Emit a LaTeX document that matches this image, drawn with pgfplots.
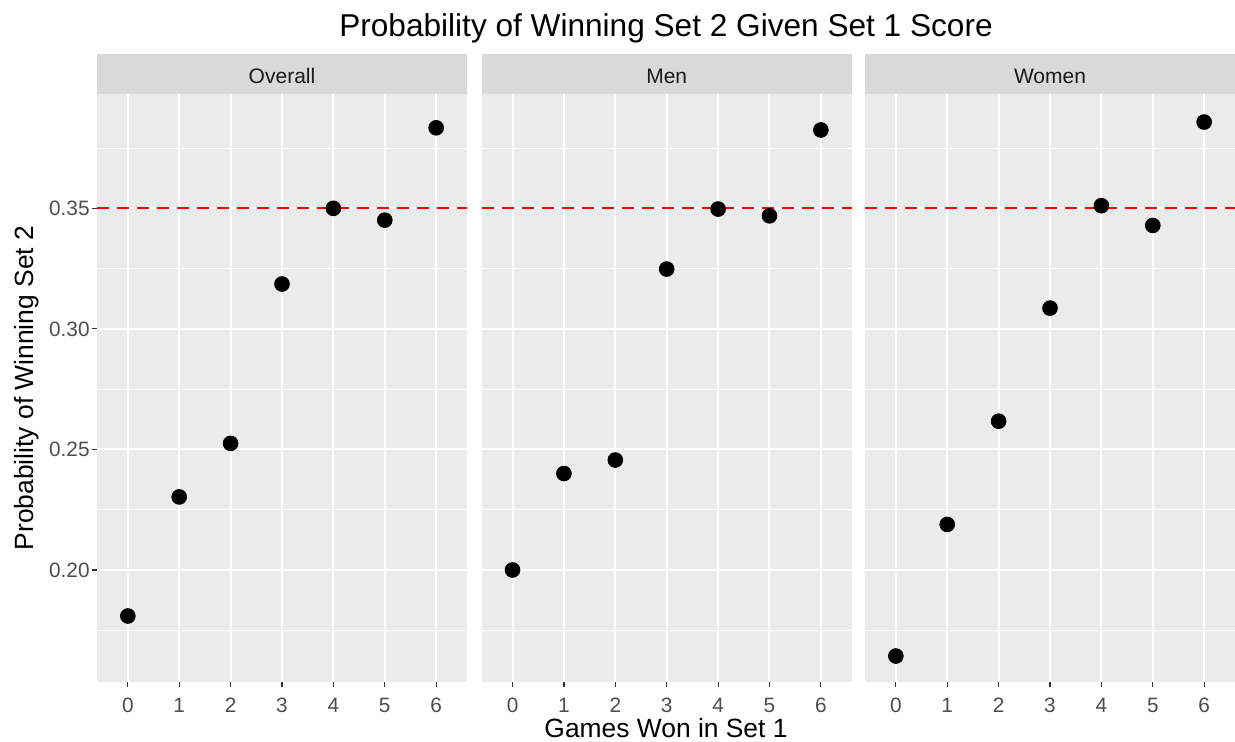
\documentclass[border=0pt]{standalone}
\usepackage{fontspec}
\setmainfont{Liberation Sans}
\usepackage{pgfplots}
\pgfplotsset{compat=1.18}

\definecolor{panelbg}{HTML}{EBEBEB}
\definecolor{stripbg}{HTML}{D9D9D9}
\definecolor{ticktext}{HTML}{4D4D4D}
\definecolor{tickline}{HTML}{333333}
\definecolor{striptext}{HTML}{1A1A1A}

\pgfplotsset{
  facet/.style={
    scale only axis, width=185pt, height=293.7pt, anchor=south west,
    xmin=-0.6, xmax=6.6, ymin=0.15365, ymax=0.3973,
    axis background/.style={fill=panelbg},
    axis line style={draw=none},
    clip=false,
    xtick={0,...,6}, ytick={0.20,0.25,0.30,0.35},
    minor ytick={0.175,0.225,0.275,0.325,0.375},
    grid=both,
    major grid style={white, line width=1pt},
    minor grid style={white, line width=0.5pt},
    tick align=outside, tick pos=left,
    major tick length=2.5pt, minor tick length=0pt,
    tick style={tickline, line width=0.6pt},
    /pgf/number format/assume math mode=true,
    ticklabel style={font=\fontsize{10.4}{12}\selectfont, text=ticktext},
    xticklabel style={inner sep=0pt, yshift=-5.5pt},
    yticklabel style={inner sep=1pt, /pgf/number format/.cd, fixed, fixed zerofill, precision=2},
  },
  pts/.style={only marks, mark=*, mark size=3.7pt, black},
  ref/.style={red, line width=1pt, dash pattern=on 6pt off 4pt},
}

\newcommand{\strip}[1]{%
  \fill[stripbg] (rel axis cs:0,1) rectangle ([yshift=20.15pt]rel axis cs:1,1);
  \node[anchor=base, text=striptext, font=\fontsize{10.5}{12}\selectfont]
    at ([yshift=5.5pt]rel axis cs:0.5,1) {#1};
}

\begin{document}
\begin{tikzpicture}
\path[use as bounding box] (0,0) rectangle (617.5pt,-371pt);

% Overall
\begin{axis}[facet, at={(48.5pt,-340.85pt)}]
\addplot[ref] coordinates {(-0.6,0.35) (6.6,0.35)};
\addplot[pts] coordinates {(0,0.1809) (1,0.2303) (2,0.2525) (3,0.3186) (4,0.3500) (5,0.3451) (6,0.3834)};
\strip{Overall}
\end{axis}

% Men
\begin{axis}[facet, at={(240.85pt,-340.85pt)}, yticklabels={}, ytick style={draw=none}]
\addplot[ref] coordinates {(-0.6,0.35) (6.6,0.35)};
\addplot[pts] coordinates {(0,0.2000) (1,0.2400) (2,0.2456) (3,0.3248) (4,0.3497) (5,0.3469) (6,0.3825)};
\strip{Men}
\end{axis}

% Women
\begin{axis}[facet, at={(432.5pt,-340.85pt)}, yticklabels={}, ytick style={draw=none}]
\addplot[ref] coordinates {(-0.6,0.35) (6.6,0.35)};
\addplot[pts] coordinates {(0,0.1643) (1,0.2189) (2,0.2617) (3,0.3086) (4,0.3511) (5,0.3429) (6,0.3858)};
\strip{Women}
\end{axis}

\node[anchor=base, font=\fontsize{15.8}{18}\selectfont] at (333pt,-18.35pt)
  {Probability of Winning Set 2 Given Set 1 Score};
\node[anchor=base, font=\fontsize{13.2}{15}\selectfont] at (333pt,-368.8pt)
  {Games Won in Set 1};
\node[anchor=base, rotate=90, font=\fontsize{13.2}{15}\selectfont] at (16.5pt,-194pt)
  {Probability of Winning Set 2};
\end{tikzpicture}
\end{document}
